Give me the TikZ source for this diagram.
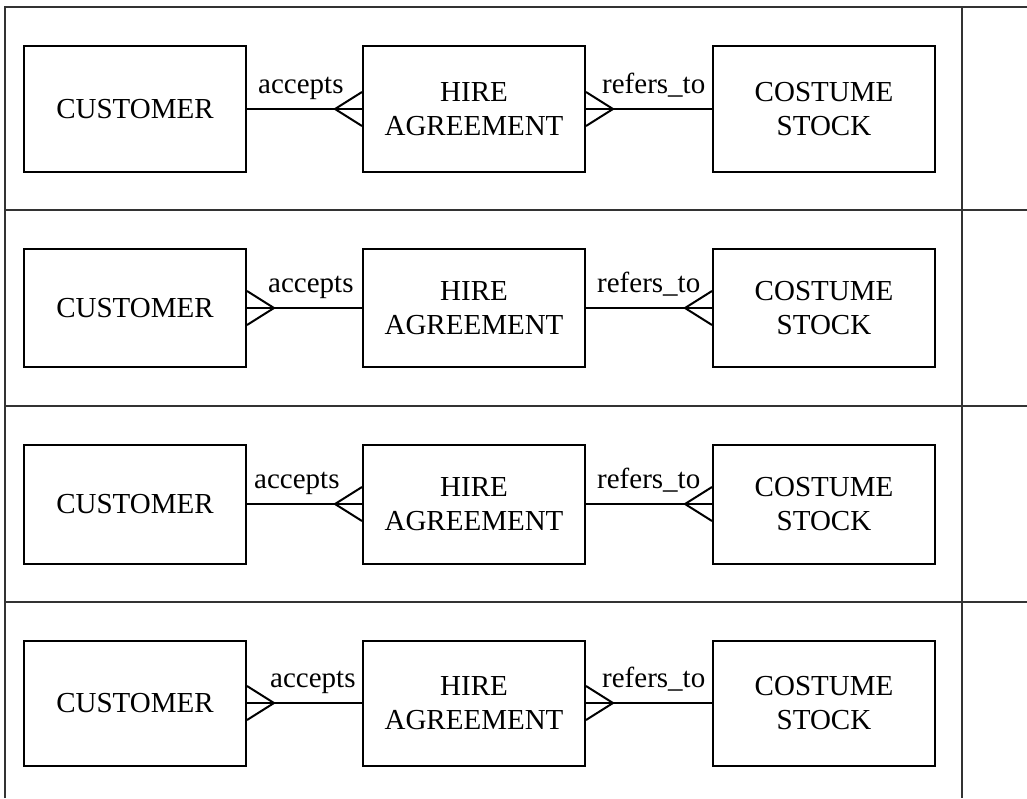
\documentclass[tikz,border=0pt]{standalone}
\usepackage{fontspec}
\setmainfont{Liberation Serif}
\usetikzlibrary{calc}
\tikzset{
	entity/.style={draw, line width=2pt, minimum width=222pt, align=center, inner sep=0pt, font=\fontsize{29}{34}\selectfont},
	rel/.style={line width=2pt, line join=miter},
	rellabel/.style={anchor=base west, inner sep=0pt, font=\fontsize{29}{34}\selectfont},
	grid/.style={line width=1.5pt, draw=black!80}
}
\newcommand{\crowfoot}[2]{\draw[rel] ($(#1)+(0,-17)$) -- ($(#1)+(#2*27,0)$) -- ($(#1)+(0,17)$);}
\begin{document}
\begin{tikzpicture}[x=1pt, y=-1pt]
	\useasboundingbox (0,0) rectangle (1027,798);
	\draw[grid] (5,798) -- (5,7) -- (1027,7);
	\draw[grid] (962,7) -- (962,798);
	\foreach \y in {210,406,602} \draw[grid] (5,\y) -- (1027,\y);
	\foreach \r/\yc/\h/\ax/\rx/\na/\aa/\da/\nb/\ab/\db in {
		1/109/126/258/602/hire/west/-1/hire/east/1,
		2/308/118/268/597/cust/east/1/stock/west/-1,
		3/504/119/254/597/hire/west/-1/stock/west/-1,
		4/703/125/270/602/cust/east/1/hire/east/1}{
		\node[entity, minimum height=\h pt] (cust\r) at (135,\yc) {CUSTOMER};
		\node[entity, minimum height=\h pt] (hire\r) at (474,\yc) {HIRE\\AGREEMENT};
		\node[entity, minimum height=\h pt] (stock\r) at (824,\yc) {COSTUME\\STOCK};
		\draw[rel] (cust\r) -- (hire\r);
		\draw[rel] (hire\r) -- (stock\r);
		\crowfoot{\na\r.\aa}{\da}
		\crowfoot{\nb\r.\ab}{\db}
		\node[rellabel] (acc\r) at (\ax,\yc-16) {accepts};
		\node[rellabel] (ref\r) at (\rx,\yc-16) {refers\_to};
	}
\end{tikzpicture}
\end{document}
